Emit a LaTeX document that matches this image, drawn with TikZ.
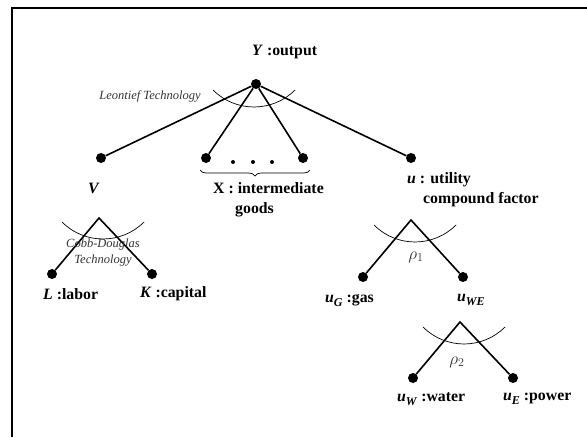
\documentclass[tikz,border=0pt]{standalone}
\usepackage{fontspec}
\setmainfont{Liberation Serif}
\usetikzlibrary{decorations.pathreplacing}
\newcommand{\lowsub}[1]{\raisebox{-4pt}{\fontsize{12}{12}\selectfont\textit{#1}}}

\begin{document}
\begin{tikzpicture}[x=1pt,y=-1pt,
  dot/.style={circle,fill=black,inner sep=0pt,minimum size=10pt},
  edge/.style={line width=1.6pt},
  techarc/.style={line width=0.7pt},
  lab/.style={font=\fontsize{15.8}{20}\selectfont\bfseries,inner sep=0pt,anchor=west,align=left},
  tech/.style={font=\fontsize{12.5}{16}\selectfont\itshape,black!80,inner sep=0pt,align=center},
  rho/.style={font=\fontsize{17}{17}\selectfont,black!80,inner sep=0pt}]

\useasboundingbox (0,0) rectangle (587,437);
\draw[line width=1.5pt] (12,437) -- (12,8) -- (587,8);

% top level
\node[dot] (Y) at (256,84) {};
\node[dot] (V) at (101,158) {};
\node[dot] (X1) at (206,158) {};
\node[dot] (X2) at (303,158) {};
\node[dot] (u) at (411,158) {};
\foreach \x in {233,253,272}
  \fill (\x,162) circle (2);

\draw[edge] (Y) -- (V);
\draw[edge] (Y) -- (X1);
\draw[edge] (Y) -- (X2);
\draw[edge] (Y) -- (u);
\draw[techarc] (213,90) arc[start angle=135,end angle=45,radius=58];
\draw[decorate,decoration={brace,mirror,amplitude=6pt},line width=0.7pt] (200,170) -- (310,170);

\node[lab] (Ylab) at (252,52) {\textit{Y} :output};
\node[tech] (leontief) at (150,96) {Leontief Technology};
\node[lab] (Vlab) at (88,188) {\textit{V}};
\node[lab] (Xlab) at (213,200) {X : intermediate\\\hspace{22pt}goods};
\node[lab] (ulab) at (407,190) {\textit{u} : utility\\\hspace{16pt}compound factor};

% V branch
\coordinate (Vtop) at (99,218);
\node[dot] (L) at (52,274) {};
\node[dot] (K) at (152,274) {};
\draw[edge] (L) -- (Vtop) -- (K);
\draw[techarc] (62,222) arc[start angle=135,end angle=45,radius=58];
\node[tech] (cobb) at (103,253) {Cobb-Douglas\\Technology};
\node[lab] (Llab) at (43,294) {\textit{L} :labor};
\node[lab] (Klab) at (140,294) {\textit{K} :capital};

% u branch
\coordinate (utop) at (411,220);
\node[dot] (uG) at (363,277) {};
\node[dot] (uWE) at (463,277) {};
\draw[edge] (uG) -- (utop) -- (uWE);
\draw[techarc] (374,225) arc[start angle=135,end angle=45,radius=58];
\node[rho] (rho1) at (416,257) {$\rho_1$};
\node[lab] (uGlab) at (325,300) {\textit{u}\lowsub{G} :gas};
\node[lab] (uWElab) at (457,300) {\textit{u}\lowsub{WE}};

% uWE branch
\coordinate (uWEtop) at (460,322);
\node[dot] (uW) at (413,378) {};
\node[dot] (uE) at (513,378) {};
\draw[edge] (uW) -- (uWEtop) -- (uE);
\draw[techarc] (423,327) arc[start angle=135,end angle=45,radius=58];
\node[rho] (rho2) at (457,362) {$\rho_2$};
\node[lab] (uWlab) at (397,399) {\textit{u}\lowsub{W} :water};
\node[lab] (uElab) at (503,399) {\textit{u}\lowsub{E} :power};
\end{tikzpicture}
\end{document}
